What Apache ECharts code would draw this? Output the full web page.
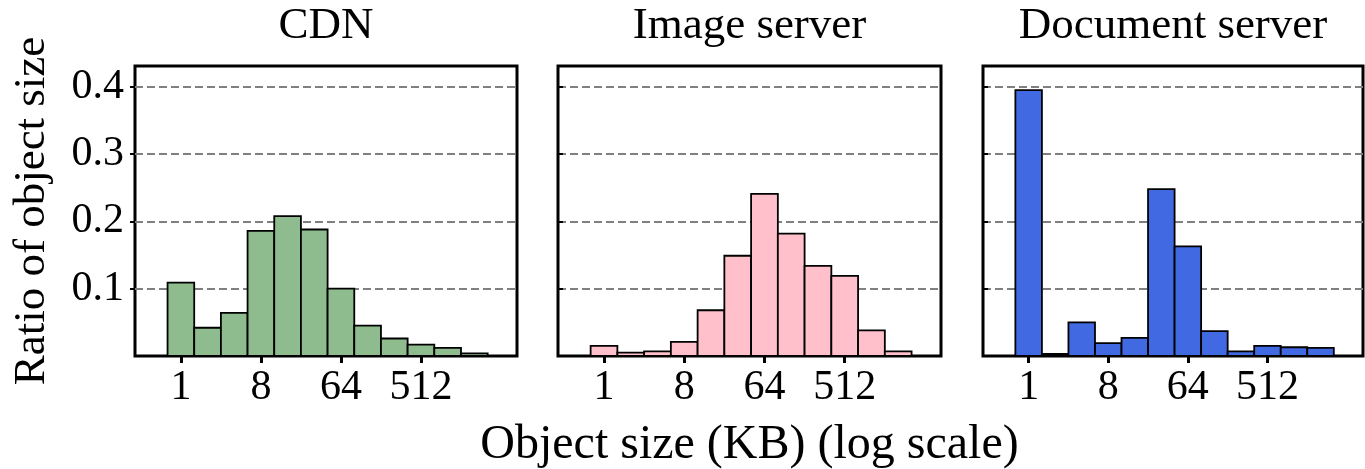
<!DOCTYPE html>
<html><head><meta charset="utf-8">
<script src="https://cdn.jsdelivr.net/npm/echarts@6/dist/echarts.min.js"></script>
<style>html,body{margin:0;padding:0;background:#fff}#c{width:1365px;height:469px}</style>
</head><body><div id="c"></div>
<script>
// ---- data ----
const sizesKB = [1, 2, 4, 8, 16, 32, 64, 128, 256, 512, 1024, 2048];
const panelTitles = ['CDN', 'Image server', 'Document server'];
const cdnRatio   = [0.109, 0.042, 0.064, 0.186, 0.208, 0.188, 0.100, 0.045, 0.026, 0.017, 0.012, 0.004];
const imageRatio = [0.015, 0.005, 0.007, 0.021, 0.068, 0.149, 0.241, 0.182, 0.134, 0.119, 0.038, 0.007];
const docRatio   = [0.395, 0.003, 0.050, 0.019, 0.027, 0.248, 0.163, 0.037, 0.007, 0.015, 0.013, 0.012];
const xTickLabels = [1, 8, 64, 512];
const yTickLabels = [0.1, 0.2, 0.3, 0.4];
const xAxisTitle = 'Object size (KB) (log scale)';
const yAxisTitle = 'Ratio of object size';

// ---- styling / layout ----
const FONT = 'Liberation Serif';
const barColors = ['#8fbc8f', '#ffc0cb', '#4169e1'];
const seriesData = [cdnRatio, imageRatio, docRatio];
const grids = [
  {left: 135, top: 66, width: 382, height: 290},
  {left: 558, top: 66, width: 383, height: 290},
  {left: 983, top: 66, width: 380, height: 290}
];
const tickPos = xTickLabels.map(v => Math.log2(v));

function makeRender(color) {
  return function (params, api) {
    const x = api.value(0), v = api.value(1);
    const p0 = api.coord([x - 0.5, 0]);
    const p1 = api.coord([x + 0.5, v]);
    return {
      type: 'rect',
      shape: {x: p0[0], y: p1[1], width: p1[0] - p0[0], height: p0[1] - p1[1]},
      style: {fill: color, stroke: '#000', lineWidth: 1.8}
    };
  };
}

const option = {
  animation: false,
  backgroundColor: '#fff',
  title: panelTitles.map((t, i) => ({
    text: t,
    left: grids[i].left + grids[i].width / 2,
    textAlign: 'center',
    top: 4,
    padding: 0,
    textStyle: {fontFamily: FONT, fontSize: 45, fontWeight: 'normal', color: '#000'}
  })),
  grid: grids.map(g => Object.assign({
    show: true, borderColor: '#000', borderWidth: 3, backgroundColor: 'transparent',
    containLabel: false, outerBoundsMode: 'none'
  }, g)),
  xAxis: grids.map((g, i) => ({
    type: 'value', gridIndex: i, min: -1.72, max: 12.6,
    axisLine: {show: false},
    splitLine: {show: false},
    axisTick: {show: true, customValues: tickPos, length: 7, lineStyle: {color: '#000', width: 3}},
    axisLabel: {
      show: true, customValues: tickPos, margin: 11,
      formatter: v => String(Math.round(Math.pow(2, v))),
      fontFamily: FONT, fontSize: 42, color: '#000'
    },
    name: i === 1 ? xAxisTitle : '',
    nameLocation: 'middle', nameGap: 65,
    nameTextStyle: {fontFamily: FONT, fontSize: 48, color: '#000'}
  })),
  yAxis: grids.map((g, i) => ({
    type: 'value', gridIndex: i, min: 0, max: 0.431, interval: 0.1,
    axisLine: {show: false, onZero: false},
    splitLine: {show: true, showMinLine: false, showMaxLine: false,
      lineStyle: {type: [8, 4], color: '#808080', width: 2}},
    axisTick: {show: true, inside: i !== 0, length: 5, lineStyle: {color: '#000', width: 2}},
    axisLabel: {
      show: i === 0, margin: 11, showMinLabel: false, showMaxLabel: false,
      formatter: v => {
        const k = yTickLabels.findIndex(t => Math.abs(t - v) < 1e-6);
        return k >= 0 ? yTickLabels[k].toFixed(1) : '';
      },
      fontFamily: FONT, fontSize: 42, color: '#000'
    },
    name: i === 0 ? yAxisTitle : '',
    nameLocation: 'middle', nameGap: 80, nameRotate: 90,
    nameTextStyle: {fontFamily: FONT, fontSize: 45, color: '#000'}
  })),
  series: seriesData.map((vals, i) => ({
    type: 'custom', xAxisIndex: i, yAxisIndex: i,
    renderItem: makeRender(barColors[i]),
    encode: {x: 0, y: 1},
    data: sizesKB.map((s, k) => [Math.log2(s), vals[k]])
  }))
};

const chart = echarts.init(document.getElementById('c'), null, {renderer: 'canvas'});
chart.setOption(option);
</script>
</body></html>
